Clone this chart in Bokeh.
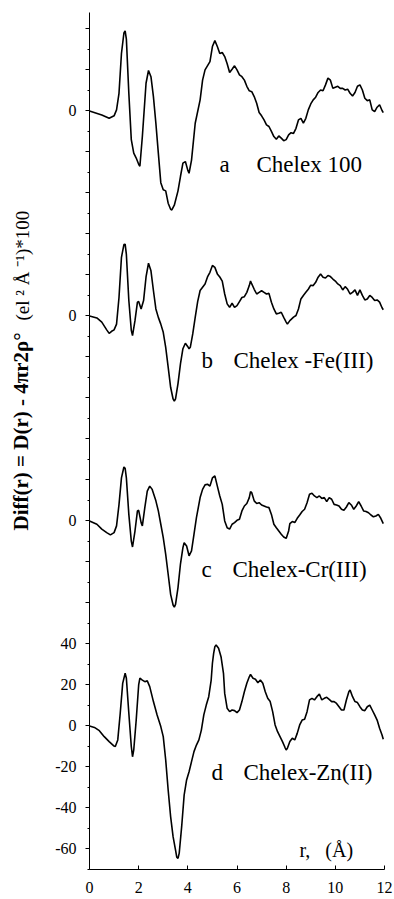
from bokeh.plotting import figure
from bokeh.layouts import row
from bokeh.models import FixedTicker, Label
from bokeh.embed import file_html
from bokeh.resources import INLINE

# ---- data: (r in Angstrom, Diff(r) in (el^2 A^-1)*100) ----
pts_a = [(0, 0), (0.5, -2), (0.8, -3.6), (1.0, -2.4), (1.1, 0.5), (1.2, 8.6), (1.3, 28), (1.4, 38),
         (1.45, 39), (1.5, 35), (1.6, 8.6), (1.7, -14), (1.8, -20.6), (1.9, -23), (2.0, -26), (2.05, -27),
         (2.15, -12.5), (2.3, 13.5), (2.4, 19.7), (2.5, 16.7), (2.6, 7), (2.7, -6), (2.8, -20.6), (2.9, -35),
         (3.0, -38.5), (3.1, -39), (3.2, -45), (3.3, -48), (3.35, -48.3), (3.45, -46), (3.6, -39), (3.7, -32),
         (3.8, -25.5), (3.9, -24.7), (4.0, -29), (4.05, -30.4), (4.15, -24), (4.3, -6), (4.5, 5.4), (4.6, 15),
         (4.7, 20), (4.9, 24), (5.0, 31.4), (5.1, 34.3), (5.2, 31.4), (5.3, 28), (5.4, 28.5), (5.5, 26.5),
         (5.6, 23), (5.7, 18.7), (5.8, 20.3), (5.9, 22),
         (6.0, 20), (6.1, 17.6), (6.2, 16.7), (6.3, 15), (6.4, 12), (6.5, 9.8), (6.6, 9.4), (6.7, 7), (6.8, 3.7), (6.9, -0.8),
         (7.0, -2.4), (7.1, -4.4), (7.2, -6.8), (7.3, -7.6), (7.4, -10), (7.5, -12.5), (7.6, -13.8), (7.7, -12.2), (7.8, -13.3), (7.9, -14.5),
         (8.0, -14), (8.1, -11.7), (8.2, -10.6), (8.3, -11), (8.4, -8.5), (8.5, -4.4), (8.6, -3.6), (8.7, -6), (8.8, -3.6), (8.9, 0.5),
         (9.0, 3.4), (9.1, 5.4), (9.2, 6.7), (9.3, 9), (9.4, 10.2), (9.5, 9.8), (9.6, 12.7), (9.7, 16), (9.8, 15), (9.9, 11),
         (10.0, 11.5), (10.1, 12), (10.2, 11), (10.3, 11), (10.4, 10.2), (10.5, 10.6), (10.6, 8.6), (10.7, 7.3), (10.8, 9), (10.9, 12),
         (11.0, 12.7), (11.1, 10.2), (11.2, 6.2), (11.3, 5), (11.4, 5.4), (11.5, 0.5), (11.6, -0.3), (11.7, 1.8), (11.8, 3), (11.9, 0.2),
         (11.95, -0.8)]

pts_b = [(0, 0), (0.3, -1), (0.5, -3), (0.7, -6.8), (0.8, -8.5), (0.9, -7.5), (1.0, -6.8), (1.1, -4), (1.2, 9),
         (1.3, 28.6), (1.4, 34.8), (1.45, 35), (1.5, 30), (1.6, 7.5), (1.7, -7), (1.75, -9.6), (1.85, -2.3),
         (1.95, 6.7), (2.0, 7), (2.1, 3.4), (2.2, 7.5), (2.3, 19), (2.4, 25.7), (2.5, 22), (2.6, 12.4), (2.7, 3.4),
         (2.8, -0.7), (2.9, -4), (3.0, -8), (3.1, -15.3), (3.2, -25), (3.3, -34.8), (3.4, -40.5), (3.45, -41.6),
         (3.5, -40.5), (3.6, -33), (3.7, -23.4), (3.8, -16), (3.9, -13.3), (4.0, -15), (4.05, -16), (4.1, -15.3),
         (4.2, -8.8), (4.3, -0.7), (4.4, 7), (4.5, 12.4), (4.6, 14), (4.7, 15.6), (4.8, 19), (4.9, 21.3),
         (5.0, 24.6), (5.1, 23.7), (5.2, 20.5), (5.3, 19), (5.4, 17), (5.5, 10.7), (5.6, 5.9), (5.7, 4.2), (5.8, 6.2), (5.9, 4.2),
         (6.0, 5), (6.1, 7), (6.2, 9), (6.3, 9.4), (6.4, 11.5), (6.5, 14.8), (6.55, 17), (6.6, 15.6), (6.7, 13), (6.8, 10.7), (6.9, 11.5),
         (7.0, 12.3), (7.1, 11.5), (7.2, 10.7), (7.3, 11), (7.4, 6.7), (7.5, 3.4), (7.6, 1), (7.7, 1.3), (7.8, 1.8), (7.9, -0.7),
         (8.0, -3), (8.05, -4), (8.15, -2.3), (8.3, -0.6), (8.4, 0.2), (8.5, 3.4), (8.6, 8.3), (8.7, 10), (8.8, 11.5), (8.9, 13),
         (9.0, 15), (9.1, 14.8), (9.2, 16.4), (9.3, 18.9), (9.4, 20.5), (9.5, 18.9), (9.6, 18.5), (9.7, 19.7), (9.8, 19.2), (9.9, 18),
         (10.0, 17), (10.1, 15.6), (10.2, 14.8), (10.3, 12.7), (10.4, 14.3), (10.5, 13), (10.6, 10.7), (10.7, 11.5), (10.8, 12.7), (10.9, 10),
         (11.0, 12.7), (11.1, 10), (11.2, 7.8), (11.3, 8.3), (11.4, 10), (11.5, 9), (11.6, 7.5), (11.7, 7.8), (11.8, 6.7), (11.9, 4),
         (11.95, 3)]

pts_c = [(0, 0), (0.3, -1.6), (0.5, -4), (0.7, -5.7), (0.85, -6.8), (1.0, -5.7), (1.1, -2.4), (1.2, 8), (1.3, 21),
         (1.4, 26.3), (1.45, 25.7), (1.5, 21), (1.6, 3.2), (1.7, -9.8), (1.75, -12.7), (1.85, -4.9), (1.95, 4.9),
         (2.0, 5.2), (2.1, -0.8), (2.15, -2.4), (2.25, 6.5), (2.35, 14.6), (2.45, 17), (2.55, 15.4), (2.7, 9.8),
         (2.8, 4.9), (2.9, -1.6), (3.0, -8.1), (3.1, -16.3), (3.2, -26), (3.3, -35.8), (3.4, -41), (3.45, -42),
         (3.5, -40.7), (3.6, -32.5), (3.7, -21), (3.8, -13), (3.85, -10.6), (3.95, -12.2), (4.05, -17), (4.15, -14.6),
         (4.25, -6.5), (4.35, 1.6), (4.5, 11.4), (4.6, 15.4), (4.7, 17.6), (4.8, 17.9), (4.9, 17), (5.0, 21),
         (5.1, 22), (5.2, 17), (5.3, 12.2), (5.4, 8.1), (5.5, 0), (5.6, -3.3), (5.7, -4), (5.8, -1.6), (5.9, -0.8),
         (6.0, 0.3), (6.1, 0.8), (6.2, 4.9), (6.3, 7.3), (6.4, 8.5), (6.5, 11.4), (6.55, 14.3), (6.6, 13.8), (6.7, 9.8),
         (6.8, 8.5), (6.9, 8.9), (7.0, 7.8), (7.1, 7.3), (7.2, 6.8), (7.3, 6.5), (7.4, 3.2), (7.5, -1.6), (7.6, -3.3),
         (7.7, -4.9), (7.8, -6.5), (7.9, -7.8), (8.0, -8.5), (8.1, -4.9), (8.15, -1.3), (8.25, -0.3), (8.35, -0.8),
         (8.45, 1.3), (8.55, 2.9), (8.65, 4.6), (8.75, 5.7), (8.85, 8.9), (8.95, 13), (9.05, 13.5), (9.15, 12.2),
         (9.25, 11.4), (9.35, 12.2), (9.45, 11), (9.55, 11.4), (9.65, 9.4), (9.75, 11.4), (9.85, 10.6), (9.95, 8.1),
         (10.05, 7.8), (10.15, 7.3), (10.25, 5.7), (10.35, 5.2), (10.45, 6.8), (10.55, 8.9), (10.65, 7.8), (10.75, 5.7),
         (10.85, 7.3), (10.95, 9.4), (11.05, 7.3), (11.15, 4.9), (11.25, 4.6), (11.35, 4), (11.45, 2.9), (11.55, 2),
         (11.65, 2.4), (11.75, 3.2), (11.85, 1.3), (11.95, -1.3)]

pts_d = [(0, 0), (0.2, -0.7), (0.4, -2.3), (0.6, -5.2), (0.8, -7.6), (1.0, -9.8), (1.05, -10), (1.15, -6.8),
         (1.25, 6.2), (1.35, 20.8), (1.45, 25.7), (1.5, 23.3), (1.6, 6.2), (1.7, -10), (1.75, -15), (1.8, -11.7),
         (1.9, 2.9), (2.0, 20), (2.05, 23.3), (2.15, 22.4), (2.25, 21.6), (2.35, 22), (2.45, 19.2), (2.6, 11.9),
         (2.75, 5.4), (2.9, -0.3), (3.0, -5.2), (3.1, -16.6), (3.2, -31.2), (3.3, -44.2), (3.4, -54), (3.5, -60.5),
         (3.55, -64), (3.6, -64.6), (3.65, -62), (3.75, -49), (3.85, -33.7), (3.95, -26.3), (4.05, -22.3),
         (4.15, -17.4), (4.25, -12.5), (4.35, -9.3), (4.45, -6.8), (4.55, -2), (4.65, 5.4), (4.75, 10.2),
         (4.85, 14.3), (4.95, 22.4), (5.0, 30.6), (5.05, 35.4), (5.1, 38.7), (5.15, 39.5), (5.25, 37.9),
         (5.35, 33.8), (5.45, 25.7), (5.5, 15.9), (5.6, 8.6), (5.7, 7), (5.8, 7.8), (5.9, 7.5), (6.0, 6.5),
         (6.1, 7.8), (6.2, 11.9), (6.3, 16.7), (6.4, 20.8), (6.5, 24), (6.55, 25.2), (6.65, 23.3), (6.75, 22.8),
         (6.85, 21.1), (6.95, 22.4), (7.05, 20.8), (7.15, 16.7), (7.25, 13.5), (7.35, 11.9), (7.45, 7), (7.55, 0.5),
         (7.65, -2.8), (7.75, -5.2), (7.85, -7.6), (7.95, -10.4), (8.0, -11.7), (8.05, -10.9), (8.15, -7.6),
         (8.25, -6), (8.35, -6.8), (8.45, -3.6), (8.55, 0.5), (8.65, 2.9), (8.75, 3.3), (8.85, 7), (8.95, 12.7),
         (9.05, 13.5), (9.15, 12.7), (9.25, 14.3), (9.35, 15.6), (9.45, 12.7), (9.55, 13.5), (9.65, 14), (9.75, 13),
         (9.85, 11.9), (9.95, 11.9), (10.05, 11), (10.15, 9.4), (10.25, 7.8), (10.35, 7.8), (10.45, 12.7),
         (10.55, 16.7), (10.6, 17.6), (10.7, 14.3), (10.8, 11.9), (10.9, 11.4), (11.0, 9.4), (11.1, 7.8), (11.2, 7.5),
         (11.3, 9.4), (11.4, 10.2), (11.5, 7.8), (11.6, 5.4), (11.7, 2.9), (11.8, -1.1), (11.9, -4.4), (11.95, -6.5)]

curves = [pts_a, pts_b, pts_c, pts_d]
offsets = [300, 200, 100, 0]          # vertical shift of each curve
panel_letters = ["a", "b", "c", "d"]
panel_names = ["Chelex 100", "Chelex -Fe(III)", "Chelex-Cr(III)", "Chelex-Zn(II)"]

x_ticks = [0, 2, 4, 6, 8, 10, 12]
y_ticks = list(range(-60, 341, 20))
y_tick_labels = {-60: "-60", -40: "-40", -20: "-20", 0: "0", 20: "20", 40: "40",
                 100: "0", 200: "0", 300: "0"}

SERIF = "Liberation Serif"
NB = "\u00a0"
TOTAL_H = 899
LEFT_W = 50

# ---- narrow figure holding the rotated y title ----
yl = figure(width=LEFT_W, height=TOTAL_H, x_range=(0, 1), y_range=(0, 1),
            x_axis_type=None, y_axis_type=None, output_backend="svg", toolbar_location=None,
            min_border_left=0, min_border_right=0, min_border_top=0, min_border_bottom=0)
yl.outline_line_color = None
yl.add_layout(Label(x=20, y=339, x_units="screen", y_units="screen", angle=90, angle_units="deg",
                    text="Diff(r) = D(r) - 4πr2ρ°", text_align="left", text_baseline="alphabetic",
                    text_font=SERIF, text_font_style="bold", text_font_size="21px", text_color="black"))
yl.add_layout(Label(x=22, y=549, x_units="screen", y_units="screen", angle=90, angle_units="deg",
                    text="(el" + NB + "²" + NB + "Å" + NB + "⁻¹)*100", text_align="left",
                    text_baseline="alphabetic",
                    text_font=SERIF, text_font_size="19px", text_color="black"))

# ---- main figure ----
p = figure(width=394 - LEFT_W, height=TOTAL_H, x_range=(0, 12), y_range=(-70, 348),
           output_backend="svg", toolbar_location=None,
           min_border_left=89 - LEFT_W, min_border_right=10, min_border_top=12, min_border_bottom=30)
p.xgrid.visible = False
p.ygrid.visible = False
p.outline_line_color = None
p.background_fill_color = "white"

for pts, off in zip(curves, offsets):
    xs = [q[0] for q in pts]
    ys = [q[1] + off for q in pts]
    p.line(xs, ys, line_color="black", line_width=1.6)

p.xaxis.ticker = FixedTicker(ticks=x_ticks)
p.xaxis.major_tick_in = 4
p.xaxis.major_tick_out = 0
p.xaxis.minor_tick_line_color = None
p.xaxis.major_label_standoff = 12
p.xaxis.major_label_text_font = SERIF
p.xaxis.major_label_text_font_size = "16px"
p.xaxis.major_label_text_color = "black"
p.xaxis.axis_line_color = "black"

p.yaxis.ticker = FixedTicker(ticks=y_ticks, minor_ticks=list(range(-70, 348, 10)))
p.yaxis.major_label_overrides = {t: y_tick_labels.get(t, "") for t in y_ticks}
p.yaxis.major_tick_in = 0
p.yaxis.major_tick_out = 4
p.yaxis.minor_tick_in = 0
p.yaxis.minor_tick_out = 2
p.yaxis.major_label_standoff = 9
p.yaxis.major_label_text_font = SERIF
p.yaxis.major_label_text_font_size = "16px"
p.yaxis.major_label_text_color = "black"
p.yaxis.axis_line_color = "black"

# curve names (frame-relative pixel positions)
letter_pos = [(130, 705), (112, 509), (112, 300), (122, 97)]
name_pos = [(167, 705), (144, 509), (143, 300), (154, 97)]
for let, nm, lp, np_ in zip(panel_letters, panel_names, letter_pos, name_pos):
    p.add_layout(Label(x=lp[0], y=lp[1], x_units="screen", y_units="screen", text=let,
                       text_align="left", text_baseline="alphabetic",
                       text_font=SERIF, text_font_size="23px", text_color="black"))
    p.add_layout(Label(x=np_[0], y=np_[1], x_units="screen", y_units="screen", text=nm,
                       text_align="left", text_baseline="alphabetic",
                       text_font=SERIF, text_font_size="23px", text_color="black"))

p.add_layout(Label(x=210, y=20, x_units="screen", y_units="screen",
                   text="r," + NB * 3 + "(Å)",
                   text_align="left", text_baseline="alphabetic",
                   text_font=SERIF, text_font_size="20px", text_color="black"))

layout = row(yl, p)
open("out.html", "w").write(file_html(layout, INLINE))
